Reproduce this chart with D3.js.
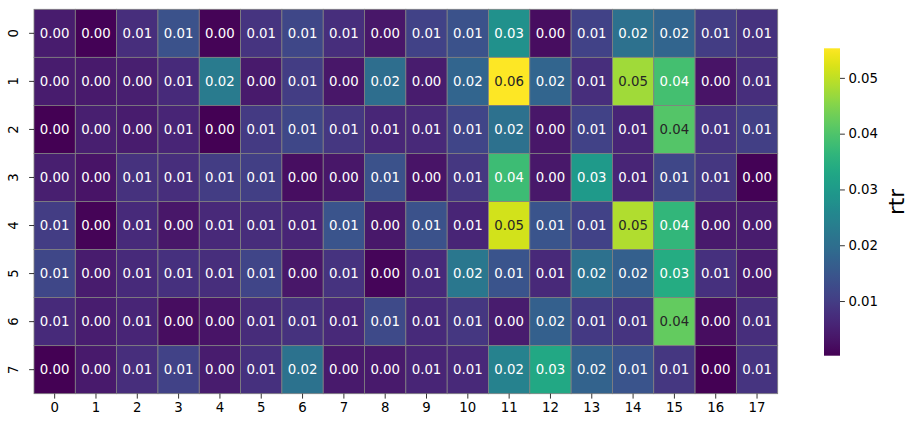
<!DOCTYPE html>
<html>
<head>
<meta charset="utf-8">
<script src="https://cdn.jsdelivr.net/npm/d3@7"></script>
<style>
  html, body { margin: 0; padding: 0; background: #fff; }
  text { font-family: "DejaVu Sans", sans-serif; }
</style>
</head>
<body>
<svg id="chart" width="915" height="428"></svg>
<script>
const rowLabels = ["0","1","2","3","4","5","6","7"];
const colLabels = ["0","1","2","3","4","5","6","7","8","9","10","11","12","13","14","15","16","17"];
const row0 = [0.0045,0.0005,0.0074,0.0140,0.0008,0.0085,0.0120,0.0075,0.0035,0.0110,0.0140,0.0278,0.0020,0.0110,0.0206,0.0180,0.0100,0.0080];
const row1 = [0.0045,0.0040,0.0048,0.0068,0.0228,0.0040,0.0100,0.0035,0.0200,0.0045,0.0180,0.0553,0.0180,0.0075,0.0475,0.0388,0.0030,0.0074];
const row2 = [0.0002,0.0048,0.0044,0.0060,0.0004,0.0095,0.0120,0.0090,0.0062,0.0065,0.0115,0.0205,0.0035,0.0110,0.0060,0.0405,0.0085,0.0105];
const row3 = [0.0048,0.0030,0.0080,0.0075,0.0100,0.0105,0.0022,0.0035,0.0140,0.0030,0.0090,0.0380,0.0038,0.0300,0.0060,0.0120,0.0090,0.0005];
const row4 = [0.0100,0.0008,0.0068,0.0035,0.0065,0.0072,0.0060,0.0145,0.0037,0.0140,0.0060,0.0515,0.0145,0.0110,0.0487,0.0365,0.0040,0.0045];
const row5 = [0.0120,0.0045,0.0068,0.0078,0.0074,0.0115,0.0035,0.0082,0.0010,0.0068,0.0220,0.0145,0.0065,0.0205,0.0168,0.0340,0.0078,0.0045];
const row6 = [0.0068,0.0046,0.0060,0.0020,0.0030,0.0070,0.0080,0.0065,0.0125,0.0068,0.0090,0.0043,0.0168,0.0093,0.0085,0.0420,0.0020,0.0074];
const row7 = [0.0003,0.0040,0.0074,0.0110,0.0043,0.0078,0.0210,0.0040,0.0040,0.0060,0.0065,0.0245,0.0333,0.0175,0.0145,0.0090,0.0003,0.0085];
const values = [row0,row1,row2,row3,row4,row5,row6,row7];
const cbarTicks = [0.01,0.02,0.03,0.04,0.05];
const cbarLabel = "rtr";

const svg = d3.select("#chart");
const L = 34, R = 777.7, T = 9.3, B = 393.7;
const x = d3.scaleBand().domain(colLabels).range([L, R]);
const y = d3.scaleBand().domain(rowLabels).range([T, B]);
const flat = values.flat();
const vmin = d3.min(flat), vmax = d3.max(flat);
const color = d3.scaleSequential(d3.interpolateViridis).domain([vmin, vmax]);

function lum(c) {
  const rgb = d3.rgb(c);
  const f = v => { v /= 255; return v <= 0.03928 ? v / 12.92 : Math.pow((v + 0.055) / 1.055, 2.4); };
  return 0.2126 * f(rgb.r) + 0.7152 * f(rgb.g) + 0.0722 * f(rgb.b);
}

const cells = [];
values.forEach((row, i) => row.forEach((v, j) => cells.push({r: rowLabels[i], c: colLabels[j], v})));

const g = svg.append("g");
g.selectAll("rect.cell").data(cells).enter().append("rect")
  .attr("class", "cell")
  .attr("x", d => x(d.c)).attr("y", d => y(d.r))
  .attr("width", x.bandwidth()).attr("height", y.bandwidth())
  .attr("fill", d => color(d.v))
  .attr("stroke", "#808080").attr("stroke-width", 0.8);

g.selectAll("text.annot").data(cells).enter().append("text")
  .attr("class", "annot")
  .attr("x", d => x(d.c) + x.bandwidth() / 2)
  .attr("y", d => y(d.r) + y.bandwidth() / 2)
  .attr("text-anchor", "middle").attr("dominant-baseline", "central")
  .attr("font-size", "13.3px")
  .attr("fill", d => lum(color(d.v)) > 0.408 ? "#262626" : "#ffffff")
  .text(d => d.v.toFixed(2));

// x axis
const xAxis = d3.axisBottom(x).tickSize(4.9).tickPadding(3.5);
const gx = svg.append("g").attr("transform", `translate(0,${B})`).call(xAxis);
gx.select(".domain").remove();
gx.selectAll("text").attr("font-size", "13.3px").attr("fill", "#000").style("font-family", "DejaVu Sans");
gx.selectAll("line").attr("stroke", "#000").attr("stroke-width", 0.8);

// y axis
const yAxis = d3.axisLeft(y).tickSize(4.9).tickPadding(3.5);
const gy = svg.append("g").attr("transform", `translate(${L},0)`).call(yAxis);
gy.select(".domain").remove();
gy.selectAll("line").attr("stroke", "#000").attr("stroke-width", 0.8);
gy.selectAll("text")
  .attr("font-size", "13.3px").attr("fill", "#000").style("font-family", "DejaVu Sans")
  .attr("x", null).attr("dy", null)
  .attr("text-anchor", "middle").attr("dominant-baseline", "central")
  .attr("transform", "translate(-20.5,0) rotate(-90)");

// colorbar
const cbX = 824, cbW = 16, cbT = 48.3, cbB = 355.7;
const cy = d3.scaleLinear().domain([vmin, vmax]).range([cbB, cbT]);
const defs = svg.append("defs");
const grad = defs.append("linearGradient").attr("id", "cbgrad")
  .attr("x1", 0).attr("y1", 1).attr("x2", 0).attr("y2", 0);
d3.range(0, 1.0001, 0.02).forEach(t => {
  grad.append("stop").attr("offset", t).attr("stop-color", d3.interpolateViridis(t));
});
svg.append("rect").attr("x", cbX).attr("y", cbT).attr("width", cbW).attr("height", cbB - cbT)
  .attr("fill", "url(#cbgrad)");
const cAxis = d3.axisRight(cy).tickValues(cbarTicks).tickFormat(d3.format(".2f")).tickSize(4.9).tickPadding(3.5);
const gc = svg.append("g").attr("transform", `translate(${cbX + cbW},0)`).call(cAxis);
gc.select(".domain").remove();
gc.selectAll("line").attr("stroke", "#000").attr("stroke-width", 0.8);
gc.selectAll("text").attr("font-size", "13.3px").attr("fill", "#000").style("font-family", "DejaVu Sans");

svg.append("text")
  .attr("transform", `translate(896,${(cbT + cbB) / 2}) rotate(-90)`)
  .attr("text-anchor", "middle").attr("dominant-baseline", "central")
  .attr("font-size", "21.5px").attr("fill", "#000")
  .text(cbarLabel);
</script>
</body>
</html>
